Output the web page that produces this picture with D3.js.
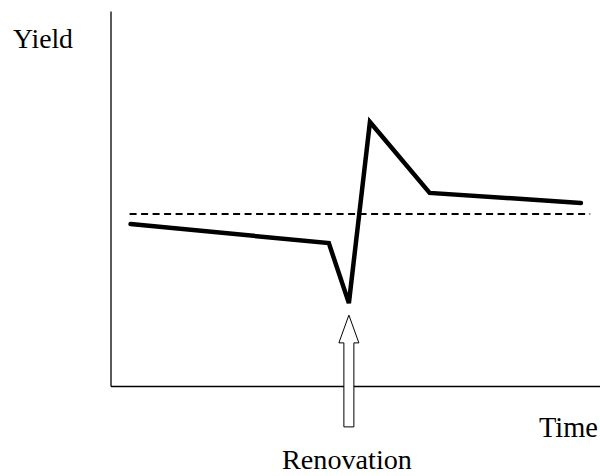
<!DOCTYPE html>
<html>
<head>
<meta charset="utf-8">
<script src="https://cdn.jsdelivr.net/npm/d3@7"></script>
<style>
  html, body { margin: 0; padding: 0; background: #fff; }
  svg { display: block; }
</style>
</head>
<body>
<svg id="chart" width="600" height="476"></svg>
<script>
// ---- data ----
const timePoints  = [4.1, 44.6, 48.7, 53.0, 65.2, 96.1];
const yieldValues = [43.2, 38.1, 22.1, 70.4, 51.5, 48.8];
const baselineTime  = [3.9, 98.0];
const baselineYield = [45.9, 45.9];
const renovationTime = 48.7;
const arrowYields = [18.9, 11.5, -10.9]; // tip, head base, tail
const axisLabels = ["Yield", "Time"];
const eventLabel = "Renovation";

// ---- layout ----
const svg = d3.select("#chart");
const x = d3.scaleLinear().domain([0, 100]).range([110.5, 600]);
const y = d3.scaleLinear().domain([0, 100]).range([386, 11]);

// axes (no ticks)
svg.append("g")
  .attr("transform", `translate(${x(0)},0)`)
  .call(d3.axisLeft(y).tickValues([]).tickSizeOuter(0))
  .select(".domain").attr("stroke", "#000").attr("stroke-width", 1.3);
svg.append("g")
  .attr("transform", `translate(0,${y(0)})`)
  .call(d3.axisBottom(x).tickValues([]).tickSizeOuter(0))
  .select(".domain").attr("stroke", "#000").attr("stroke-width", 1.3);

// dashed baseline
const line = d3.line().x(d => x(d[0])).y(d => y(d[1]));
svg.append("path")
  .datum(d3.zip(baselineTime, baselineYield))
  .attr("d", line)
  .attr("fill", "none")
  .attr("stroke", "#000")
  .attr("stroke-width", 2)
  .attr("stroke-dasharray", "7,4.5");

// yield line
svg.append("path")
  .datum(d3.zip(timePoints, yieldValues))
  .attr("d", line)
  .attr("fill", "none")
  .attr("stroke", "#000")
  .attr("stroke-width", 4.5)
  .attr("stroke-linejoin", "miter")
  .attr("stroke-linecap", "round");

// renovation arrow
const ax = x(renovationTime);
const headHalf = 10, shaftHalf = 5;
const [tipY, baseY, tailY] = arrowYields.map(v => y(v));
const arrowPts = [
  [ax, tipY],
  [ax + headHalf, baseY],
  [ax + shaftHalf, baseY],
  [ax + shaftHalf, tailY],
  [ax - shaftHalf, tailY],
  [ax - shaftHalf, baseY],
  [ax - headHalf, baseY]
];
svg.append("polygon")
  .attr("points", arrowPts.map(p => p.join(",")).join(" "))
  .attr("fill", "#fff")
  .attr("stroke", "#000")
  .attr("stroke-width", 1);

// labels: fit font size to the width seen in the reference
const serif = "'Liberation Serif', Tinos, 'Times New Roman', 'DejaVu Serif', serif";
function label(txt, x0, base, w) {
  const t = svg.append("text").text(txt)
    .attr("x", x0).attr("y", base)
    .attr("font-family", serif)
    .style("font-family", serif)
    .attr("fill", "#000")
    .attr("font-size", 26);
  const len = t.node().getComputedTextLength();
  if (len > 0) t.attr("font-size", Math.min(30, 26 * w / len));
  return t;
}
label(axisLabels[0], 13, 48, 60);
label(axisLabels[1], 539, 437, 59);
label(eventLabel, 282, 469, 130);
</script>
</body>
</html>
